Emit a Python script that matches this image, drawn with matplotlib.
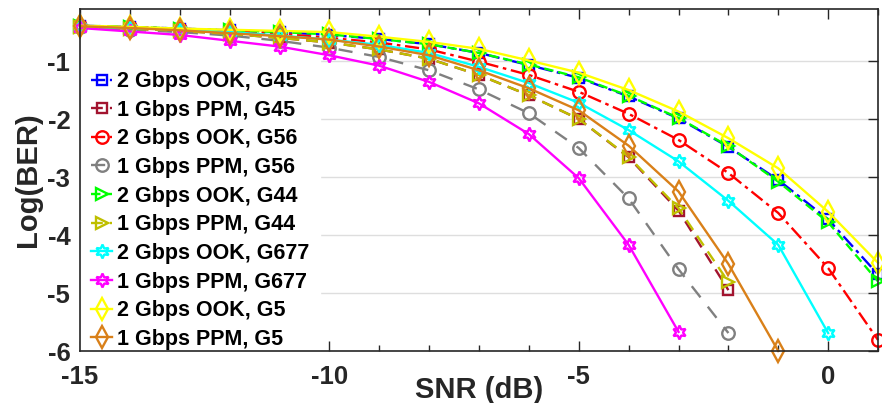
import matplotlib
matplotlib.use("Agg")
import matplotlib.pyplot as plt
from matplotlib.ticker import MultipleLocator

plt.rcParams['font.family'] = ['Liberation Sans', 'DejaVu Sans']
plt.rcParams['font.weight'] = 'bold'

# ---------------------------------------------------------------------------
# Data
# ---------------------------------------------------------------------------
snr = list(range(-15, 2))          # -15 ... 1 dB

ook_g45 = [-0.39, -0.41, -0.44, -0.47, -0.50, -0.55, -0.62, -0.71, -0.86,
           -1.07, -1.29, -1.61, -1.99, -2.48, -3.05, -3.73, -4.68]
ppm_g45 = [-0.41, -0.44, -0.48, -0.53, -0.60, -0.68, -0.80, -0.96, -1.24,
           -1.59, -2.00, -2.66, -3.58, -4.95]
ook_g56 = [-0.40, -0.42, -0.44, -0.48, -0.53, -0.60, -0.68, -0.80, -1.01,
           -1.24, -1.53, -1.91, -2.36, -2.93, -3.62, -4.57, -5.81]
ppm_g56 = [-0.42, -0.46, -0.50, -0.56, -0.65, -0.77, -0.93, -1.16, -1.49,
           -1.90, -2.50, -3.37, -4.59, -5.69]
ook_g44 = [-0.39, -0.41, -0.44, -0.47, -0.50, -0.54, -0.62, -0.71, -0.86,
           -1.06, -1.28, -1.60, -1.98, -2.47, -3.08, -3.78, -4.80]
ppm_g44 = [-0.41, -0.44, -0.48, -0.53, -0.60, -0.68, -0.80, -0.96, -1.24,
           -1.59, -2.00, -2.65, -3.54, -4.81]
ook_g677 = [-0.41, -0.43, -0.46, -0.50, -0.56, -0.63, -0.72, -0.86, -1.10,
            -1.38, -1.72, -2.19, -2.73, -3.41, -4.17, -5.69]
ppm_g677 = [-0.43, -0.49, -0.55, -0.65, -0.75, -0.90, -1.08, -1.36, -1.73,
            -2.26, -3.02, -4.17, -5.67]
ook_g5 = [-0.39, -0.41, -0.44, -0.46, -0.48, -0.50, -0.58, -0.67, -0.79,
          -0.99, -1.20, -1.50, -1.87, -2.33, -2.85, -3.60, -4.48]
ppm_g5 = [-0.40, -0.43, -0.47, -0.52, -0.57, -0.63, -0.75, -0.90, -1.16,
          -1.47, -1.85, -2.46, -3.25, -4.50, -6.00]

labels = ["2 Gbps OOK, G45", "1 Gbps PPM, G45", "2 Gbps OOK, G56",
          "1 Gbps PPM, G56", "2 Gbps OOK, G44", "1 Gbps PPM, G44",
          "2 Gbps OOK, G677", "1 Gbps PPM, G677", "2 Gbps OOK, G5",
          "1 Gbps PPM, G5"]
series = [ook_g45, ppm_g45, ook_g56, ppm_g56, ook_g44, ppm_g44,
          ook_g677, ppm_g677, ook_g5, ppm_g5]

# ---------------------------------------------------------------------------
# Styles
# ---------------------------------------------------------------------------
HEX = (6, 1, 0)   # six-pointed star (MATLAB hexagram)
styles = [
    dict(color="#0000FF", marker="s", ms=7,  dashes=[6, 2, 1.5, 2]),
    dict(color="#A2142F", marker="s", ms=7,  dashes=[5, 3]),
    dict(color="#FF0000", marker="o", ms=9,  dashes=[6, 2, 1.5, 2]),
    dict(color="#808080", marker="o", ms=9,  dashes=[6, 5]),
    dict(color="#00FF00", marker=">", ms=9,  dashes=[4, 2]),
    dict(color="#BFBF00", marker=">", ms=9,  dashes=[5, 3]),
    dict(color="#00FFFF", marker=HEX, ms=10, dashes=None),
    dict(color="#FF00FF", marker=HEX, ms=10, dashes=None),
    dict(color="#FFFF00", marker="d", ms=11, dashes=None),
    dict(color="#D98019", marker="d", ms=11, dashes=None),
]

TXT = "#262626"

fig = plt.figure(figsize=(8.82, 4.03), dpi=100)
ax = fig.add_axes([0.0907, 0.129, 0.9048, 0.849])

for y, lab, st in zip(series, labels, styles):
    line, = ax.plot(snr[:len(y)], y, color=st["color"], marker=st["marker"],
                    markersize=st["ms"], markerfacecolor="none",
                    markeredgewidth=1.7, linewidth=1.7, label=lab,
                    clip_on=False)
    if st["dashes"]:
        line.set_dashes(st["dashes"])

ax.set_xlim(-15, 1)
ax.set_ylim(-6, -0.1)
ax.set_xticks([-15, -10, -5, 0])
ax.xaxis.set_minor_locator(MultipleLocator(1))
ax.set_yticks([-6, -5, -4, -3, -2, -1])
ax.set_xticklabels(["-15", "-10", "-5", "0"])
ax.set_yticklabels(["-6", "-5", "-4", "-3", "-2", "-1"])

ax.yaxis.grid(True, color="#DEDEDE", linewidth=1.0)
ax.set_axisbelow(True)
ax.tick_params(which="both", direction="in", top=True, right=True,
               colors=TXT, labelsize=18.5, width=1.0)
ax.tick_params(which="major", length=7)
ax.tick_params(axis="x", which="major", pad=10)
ax.tick_params(axis="y", which="major", pad=7)
ax.tick_params(which="minor", length=4)
for lbl in ax.get_xticklabels() + ax.get_yticklabels():
    lbl.set_fontweight("bold")
for sp in ax.spines.values():
    sp.set_color(TXT)
    sp.set_linewidth(1.2)

ax.set_xlabel("SNR (dB)", fontsize=21, fontweight="bold", color=TXT,
              labelpad=-9)
ax.set_ylabel("Log(BER)", fontsize=21, fontweight="bold", color=TXT,
              labelpad=4)

leg = ax.legend(loc="lower left", bbox_to_anchor=(0.0, -0.028),
                borderaxespad=0.0, fontsize=15.5, frameon=True,
                fancybox=False, edgecolor="white", facecolor="white",
                framealpha=1.0, handlelength=1.0, handletextpad=0.2,
                labelspacing=0.355, borderpad=0.5)
for t in leg.get_texts():
    t.set_fontweight("bold")
    t.set_color("black")
leg.set_zorder(1.5)

fig.savefig("out.png", dpi=100)
